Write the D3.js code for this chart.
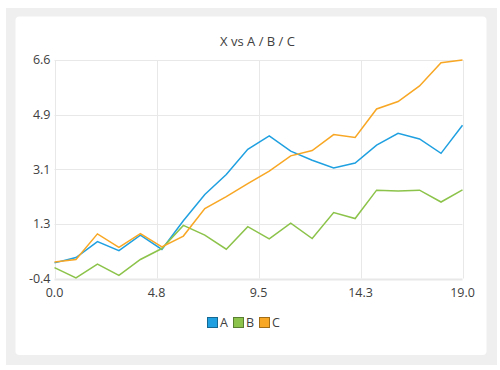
<!DOCTYPE html>
<html>
<head>
<meta charset="utf-8">
<script src="https://cdn.jsdelivr.net/npm/d3@7"></script>
<style>
body{margin:0;background:#fff;font-family:"Open Sans","Noto Sans",sans-serif;}
</style>
</head>
<body>
<div id="chart"></div>
<script>
// data
var xs=[0,1,2,3,4,5,6,7,8,9,10,11,12,13,14,15,16,17,18,19];
var seriesA=[0.10,0.27,0.78,0.49,0.99,0.53,1.45,2.29,2.93,3.74,4.17,3.68,3.39,3.14,3.30,3.87,4.25,4.07,3.61,4.51];
var seriesB=[-0.05,-0.38,0.06,-0.30,0.21,0.56,1.30,0.99,0.54,1.26,0.87,1.37,0.88,1.71,1.52,2.43,2.40,2.43,2.05,2.44];
var seriesC=[0.13,0.21,1.03,0.60,1.04,0.61,0.96,1.84,2.22,2.64,3.04,3.53,3.70,4.21,4.12,5.03,5.27,5.77,6.51,6.60];
var seriesNames=["A","B","C"];
var seriesColors=["#1fa0e0","#8cc34a","#f8a724"];
var xTicks=[0,4.75,9.5,14.25,19];
var xTickLabels=["0.0","4.8","9.5","14.3","19.0"];
var yTicks=[-0.4,1.35,3.1,4.85,6.6];
var yTickLabels=["-0.4","1.3","3.1","4.9","6.6"];

var width=500,height=370;
var svg=d3.select("#chart").append("svg").attr("width",width).attr("height",height);

// frame + card
svg.append("rect").attr("x",6).attr("y",8).attr("width",491).attr("height",357).attr("fill","#efefef");
svg.append("rect").attr("x",15.5).attr("y",16.5).attr("width",471).attr("height",338.5).attr("rx",4).attr("fill","#fff");

var pLeft=54.5,pRight=462.5,pTop=60,pBottom=278.5;
var x=d3.scaleLinear().domain([0,19]).range([pLeft,pRight]);
var y=d3.scaleLinear().domain([-0.4,6.6]).range([pBottom,pTop]);

svg.append("text").attr("x",(pLeft+pRight)/2-1).attr("y",46).attr("text-anchor","middle")
	.attr("font-size",13).attr("fill","#404040").text("X vs A / B / C");

// grid
var grid=svg.append("g");
grid.selectAll("line.h").data(yTicks).enter().append("line").attr("class","h")
	.attr("x1",pLeft).attr("x2",pRight)
	.attr("y1",function(d){return Math.round(y(d))+0.5;}).attr("y2",function(d){return Math.round(y(d))+0.5;})
	.attr("stroke","#e8e8e8").attr("stroke-width",function(d,i){return (i==0)?2:1;});
grid.selectAll("line.v").data(xTicks).enter().append("line").attr("class","v")
	.attr("y1",pTop).attr("y2",pBottom)
	.attr("x1",function(d){return Math.round(x(d))+0.5;}).attr("x2",function(d){return Math.round(x(d))+0.5;})
	.attr("stroke","#e8e8e8").attr("stroke-width",1);

// tick labels
svg.append("g").selectAll("text").data(yTicks).enter().append("text")
	.attr("x",pLeft-4).attr("y",function(d){return y(d);}).attr("dy","0.35em")
	.attr("text-anchor","end").attr("font-size",12.5).attr("fill","#404040")
	.text(function(d,i){return yTickLabels[i];});
svg.append("g").selectAll("text").data(xTicks).enter().append("text")
	.attr("x",function(d){return x(d);}).attr("y",297)
	.attr("text-anchor","middle").attr("font-size",12.5).attr("fill","#404040")
	.text(function(d,i){return xTickLabels[i];});

// lines
var allSeries=[seriesA,seriesB,seriesC];
var line=d3.line().x(function(d,i){return x(xs[i]);}).y(function(d){return y(d);});
svg.append("g").selectAll("path").data(allSeries).enter().append("path")
	.attr("d",line).attr("fill","none")
	.attr("stroke",function(d,i){return seriesColors[i];}).attr("stroke-width",1.5);

// legend
var legX=[207,233,259];
var leg=svg.append("g").selectAll("g").data(seriesNames).enter().append("g");
leg.append("rect").attr("x",function(d,i){return legX[i]+0.5;}).attr("y",317.5).attr("width",10).attr("height",10)
	.attr("fill",function(d,i){return seriesColors[i];})
	.attr("stroke",function(d,i){return d3.color(seriesColors[i]).darker(1.2);}).attr("stroke-width",1);
leg.append("text").attr("x",function(d,i){return legX[i]+13;}).attr("y",327)
	.attr("font-size",12.5).attr("fill","#404040").text(function(d){return d;});
</script>
</body>
</html>
